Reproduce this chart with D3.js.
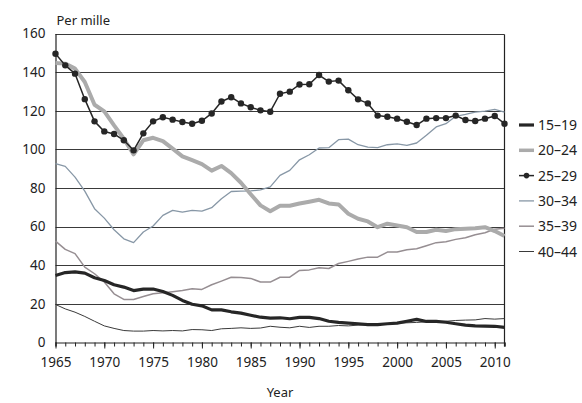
<!DOCTYPE html>
<html>
<head>
<meta charset="utf-8">
<script src="https://cdn.jsdelivr.net/npm/d3@7"></script>
<style>
  html, body { margin: 0; padding: 0; background: #fff; }
  svg { display: block; }
  text { font-family: "Noto Sans", "Open Sans", sans-serif; fill: #222; }
</style>
</head>
<body>
<svg id="chart" width="582" height="403"></svg>
<script>
// Age-specific fertility rates, per mille, 1965–2011
const years = [1965,1966,1967,1968,1969,1970,1971,1972,1973,1974,
  1975,1976,1977,1978,1979,1980,1981,1982,1983,1984,
  1985,1986,1987,1988,1989,1990,1991,1992,1993,1994,
  1995,1996,1997,1998,1999,2000,2001,2002,2003,2004,
  2005,2006,2007,2008,2009,2010,2011];

const age15to19 = [34.7,36.2,36.6,35.9,33.5,32.1,29.9,28.7,26.9,27.6,
  27.7,26.4,24.4,21.8,19.8,19.0,16.9,16.9,15.9,15.2,
  14.1,13.1,12.6,12.8,12.3,13.0,13.0,12.4,11.0,10.4,
  10.0,9.7,9.3,9.3,9.7,10.0,11.0,12.0,10.9,10.9,
  10.5,9.7,9.0,8.6,8.5,8.4,7.8];

const age20to24 = [144.7,144.4,141.8,134.9,123.1,119.7,112.4,105.5,97.4,104.7,
  106.0,104.3,100.4,96.4,94.4,92.4,89.0,91.4,87.7,82.7,
  76.8,71.0,68.0,70.8,70.8,72.0,72.9,73.9,72.0,71.5,
  66.7,64.1,62.7,59.7,61.5,60.6,59.7,57.2,57.2,58.4,
  57.7,58.7,58.9,59.2,59.7,57.7,55.1];

const age25to29 = [149.5,143.5,139.2,126.0,114.5,109.3,108.0,104.7,99.5,108.3,
  114.5,116.6,115.4,114.2,113.3,114.8,118.6,124.8,127.0,123.8,
  121.8,120.2,119.5,128.8,129.9,133.6,133.7,138.5,135.1,135.6,
  130.6,125.9,123.8,117.5,116.9,115.9,114.3,112.6,115.9,116.2,
  116.2,117.5,115.2,114.7,115.9,117.3,113.3];

const age30to34 = [92.6,91.2,85.6,78.4,69.3,64.4,58.4,53.7,51.7,57.2,
  60.3,65.8,68.4,67.5,68.4,68.0,69.8,74.4,78.2,78.4,
  78.5,79.0,80.6,86.5,89.1,94.6,97.2,100.7,100.9,105.0,
  105.3,102.4,101.2,100.9,102.4,102.8,102.1,103.3,107.3,111.6,
  113.3,117.1,118.1,119.3,119.8,120.7,119.3];

const age35to39 = [52.5,48.2,46.0,39.0,35.6,31.3,25.2,22.3,22.3,23.8,
  25.2,25.8,26.3,26.9,27.8,27.5,29.9,31.8,33.8,33.7,
  33.2,31.3,31.3,33.8,33.8,37.3,37.6,38.7,38.3,40.9,
  42.0,43.2,44.2,44.2,46.8,46.9,48.0,48.5,50.1,51.7,
  52.2,53.4,54.2,55.8,56.8,58.7,59.2];

const age40to44 = [19.7,17.4,15.7,13.5,11.0,8.6,7.3,6.2,5.9,5.9,
  6.2,6.0,6.2,6.0,6.7,6.6,6.2,7.1,7.3,7.6,
  7.3,7.5,8.4,7.9,7.6,8.4,7.8,8.4,8.4,8.8,
  8.6,9.0,9.1,9.3,9.7,10.0,10.2,10.4,10.7,10.9,
  11.0,11.4,11.6,11.7,12.4,12.1,12.4];

const ageGroups = ["15–19", "20–24", "25–29", "30–34", "35–39", "40–44"];
const yTicks = [0, 20, 40, 60, 80, 100, 120, 140, 160];
const xTickLabels = [1965, 1970, 1975, 1980, 1985, 1990, 1995, 2000, 2005, 2010];

// Visual style for each age group
const styles = {
  "15–19": { color: "#262626", width: 3.2, dots: false },
  "20–24": { color: "#ababab", width: 4,   dots: false },
  "25–29": { color: "#262626", width: 1.5, dots: true  },
  "30–34": { color: "#8797a6", width: 1.3, dots: false },
  "35–39": { color: "#968e92", width: 1.5, dots: false },
  "40–44": { color: "#3a3a3a", width: 1,   dots: false }
};

const seriesData = {
  "15–19": age15to19, "20–24": age20to24, "25–29": age25to29,
  "30–34": age30to34, "35–39": age35to39, "40–44": age40to44
};

const svg = d3.select("#chart");
const plotLeft = 55.5, plotRight = 504.5, plotTop = 33.5, plotBottom = 342.5;

const x = d3.scaleLinear().domain([1965, 2011]).range([plotLeft, plotRight]);
const y = d3.scaleLinear().domain([0, 160]).range([plotBottom, plotTop]);

// Horizontal gridlines
svg.append("g")
  .selectAll("line")
  .data(yTicks.filter(d => d > 0))
  .join("line")
  .attr("x1", plotLeft).attr("x2", plotRight)
  .attr("y1", d => Math.round(y(d)) + 0.5).attr("y2", d => Math.round(y(d)) + 0.5)
  .attr("stroke", "#3a3a3a").attr("stroke-width", 1);

// Right frame edge
svg.append("line")
  .attr("x1", plotRight).attr("x2", plotRight)
  .attr("y1", Math.round(y(160)) + 0.5).attr("y2", plotBottom + 4)
  .attr("stroke", "#222").attr("stroke-width", 1.2);

// Y axis
const yAxis = d3.axisLeft(y).tickValues(yTicks).tickSize(0).tickPadding(10);
const gy = svg.append("g").attr("transform", `translate(${plotLeft},0)`).call(yAxis);
gy.select(".domain").attr("stroke", "#222").attr("stroke-width", 1.2);
gy.selectAll("text").attr("font-size", 13.5).attr("fill", "#222")
  .style("font-family", '"Noto Sans", sans-serif');

// X axis: minor tick every year, labelled tick every five years
const xAxisMinor = d3.axisBottom(x).tickValues(years).tickSize(4).tickFormat("");
const gxMinor = svg.append("g").attr("transform", `translate(0,${plotBottom})`).call(xAxisMinor);
gxMinor.select(".domain").attr("stroke", "#222").attr("stroke-width", 1.2);
gxMinor.selectAll(".tick line").attr("stroke", "#222");

const xAxis = d3.axisBottom(x).tickValues(xTickLabels).tickSize(6).tickPadding(9).tickFormat(d3.format("d"));
const gx = svg.append("g").attr("transform", `translate(0,${plotBottom})`).call(xAxis);
gx.select(".domain").remove();
gx.selectAll(".tick line").attr("stroke", "#222");
gx.selectAll("text").attr("font-size", 13.5).attr("fill", "#222")
  .style("font-family", '"Noto Sans", sans-serif');

// Axis titles
svg.append("text").attr("x", plotLeft + 1).attr("y", 25)
  .attr("font-size", 13).text("Per mille");
svg.append("text").attr("x", (plotLeft + plotRight) / 2).attr("y", 397)
  .attr("text-anchor", "middle").attr("font-size", 13).text("Year");

// Series lines
const line = d3.line().x((d, i) => x(years[i])).y(d => y(d));
const drawOrder = ["40–44", "35–39", "30–34", "20–24", "15–19", "25–29"];
const gLines = svg.append("g");
drawOrder.forEach(key => {
  const s = styles[key];
  gLines.append("path")
    .datum(seriesData[key])
    .attr("d", line)
    .attr("fill", "none")
    .attr("stroke", s.color)
    .attr("stroke-width", s.width)
    .attr("stroke-linejoin", "round")
    .attr("stroke-linecap", "butt");
  if (s.dots) {
    gLines.append("g").selectAll("circle")
      .data(seriesData[key])
      .join("circle")
      .attr("cx", (d, i) => x(years[i]))
      .attr("cy", d => y(d))
      .attr("r", 3.2)
      .attr("fill", s.color);
  }
});

// Legend
const legend = svg.append("g").attr("transform", "translate(519,125)");
ageGroups.forEach((key, i) => {
  const s = styles[key];
  const row = legend.append("g").attr("transform", `translate(0,${i * 25.3})`);
  row.append("line").attr("x1", 0).attr("x2", 15).attr("y1", 0).attr("y2", 0)
    .attr("stroke", s.color).attr("stroke-width", Math.min(s.width, 3.5));
  if (s.dots) {
    row.append("circle").attr("cx", 7.5).attr("cy", 0).attr("r", 2.8).attr("fill", s.color);
  }
  row.append("text").attr("x", 19).attr("y", 0).attr("dy", "0.36em")
    .attr("font-size", 14).text(key);
});
</script>
</body>
</html>
